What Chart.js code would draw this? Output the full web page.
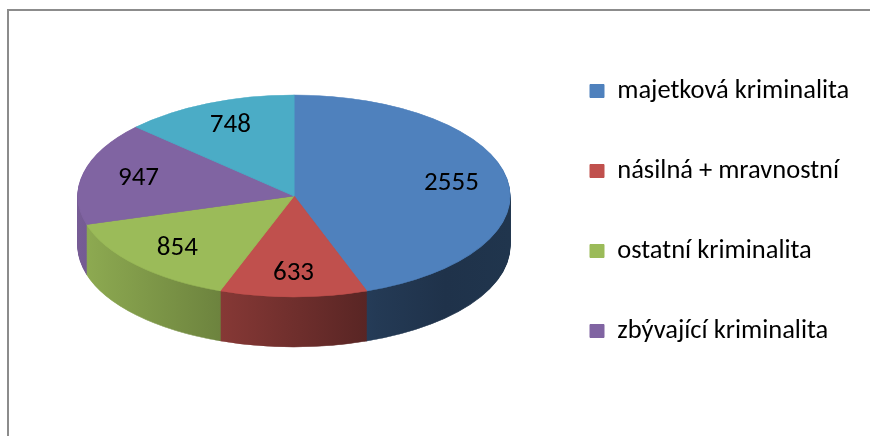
<!DOCTYPE html>
<html><head><meta charset="utf-8">
<script src="https://cdn.jsdelivr.net/npm/chart.js@4/dist/chart.umd.min.js"></script>
<style>
html,body{margin:0;padding:0;background:#fff;overflow:hidden;width:870px;height:436px}
#wrap{position:relative;width:870px;height:436px;overflow:hidden}
#frame{position:absolute;left:7px;top:9px;width:900px;height:500px;border-left:2px solid #8c8c8c;border-top:2px solid #8c8c8c;box-sizing:border-box}
canvas{position:absolute;left:0;top:0}
</style></head><body>
<div id="wrap"><div id="frame"></div><canvas id="c" width="870" height="436"></canvas></div>
<script>
// ---- data ----
const categories = ['majetková kriminalita', 'násilná + mravnostní', 'ostatní kriminalita', 'zbývající kriminalita', ''];
const values = [2555, 633, 854, 947, 748];
const topColors = ['#4f81bd', '#c0504d', '#9bbb59', '#8064a2', '#4bacc6'];

// ---- view / style ----
const FONT = 'Carlito, Lato, "Liberation Sans", sans-serif';
const view = {cx: 294, cy: 196, rx: 216, ry: 101, depth: 50, labelRx: 0.74, labelRy: 0.76};
const shade = [[0, 0.92], [0.3, 0.72], [0.69, 0.45], [0.85, 0.39], [1, 0.41]];

const mctx = document.createElement('canvas').getContext('2d');
function textW(t, size) { mctx.font = 'normal ' + size + 'px ' + FONT; return mctx.measureText(t).width; }
const legendSize = Math.round(100 * 234 / textW('majetková kriminalita', 100) * 2) / 2;
const labelSize = Math.round(100 * 55 / textW('2555', 100) * 2) / 2;
const itemSpacing = 80, boxW = 14, boxH = 13, boxX = 590;
const legendPad = itemSpacing - legendSize;
const maxTextW = Math.max(...categories.filter(c => c).map(c => textW(c, legendSize)));
const padRight = 870 - 10 - boxX - (boxW + legendSize / 2 + maxTextW);
const padTop = 91 - itemSpacing + legendSize / 2;

function rgb(hex) { const n = parseInt(hex.slice(1), 16); return [(n >> 16) & 255, (n >> 8) & 255, n & 255]; }

const pie3d = {
  id: 'pie3d',
  beforeDatasetsDraw(chart) {
    const ctx = chart.ctx;
    const meta = chart.getDatasetMeta(0);
    const a0 = meta.data[0];
    const cx = a0.x, cy = a0.y, r = a0.outerRadius;
    const sx = view.rx / r, sy = view.ry / r;
    ctx.save();
    ctx.translate(view.cx, view.cy);
    ctx.scale(sx, sy);
    ctx.translate(-cx, -cy);
    const grads = meta.data.map((arc, i) => {
      const g = ctx.createLinearGradient(cx - r, 0, cx + r, 0);
      const b = rgb(topColors[i]);
      shade.forEach(([t, f]) => g.addColorStop(t, 'rgb(' + b.map(v => Math.round(v * f)).join(',') + ')'));
      return g;
    });
    for (let d = view.depth; d >= 1; d--) {
      ctx.save();
      ctx.translate(0, d / sy);
      meta.data.forEach((arc, i) => {
        const o = arc.options;
        arc.options = Object.assign({}, o, {backgroundColor: grads[i], borderColor: grads[i], borderWidth: 1});
        arc.draw(ctx);
        arc.options = o;
      });
      ctx.restore();
    }
  },
  afterDatasetsDraw(chart) {
    const ctx = chart.ctx;
    ctx.restore();
    const meta = chart.getDatasetMeta(0);
    ctx.save();
    ctx.font = 'normal ' + labelSize + 'px ' + FONT;
    ctx.fillStyle = '#000';
    ctx.textAlign = 'center';
    ctx.textBaseline = 'middle';
    meta.data.forEach((arc, i) => {
      const mid = (arc.startAngle + arc.endAngle) / 2;
      const x = view.cx + Math.cos(mid) * view.rx * view.labelRx;
      const y = view.cy + Math.sin(mid) * view.ry * view.labelRy;
      ctx.fillText(String(values[i]), x, y);
    });
    ctx.restore();
  }
};

new Chart(document.getElementById('c'), {
  type: 'pie',
  data: {
    labels: categories,
    datasets: [{
      data: values,
      backgroundColor: topColors,
      borderColor: topColors,
      borderWidth: 1
    }]
  },
  options: {
    responsive: false,
    animation: false,
    events: [],
    layout: {padding: {top: padTop, right: padRight, left: 44, bottom: 0}},
    plugins: {
      tooltip: {enabled: false},
      legend: {
        position: 'right',
        align: 'start',
        labels: {
          font: {family: FONT, size: legendSize},
          color: '#000',
          boxWidth: boxW,
          boxHeight: boxH,
          padding: legendPad,
          filter: item => item.text !== ''
        }
      }
    }
  },
  plugins: [pie3d]
});
</script>
</body></html>
